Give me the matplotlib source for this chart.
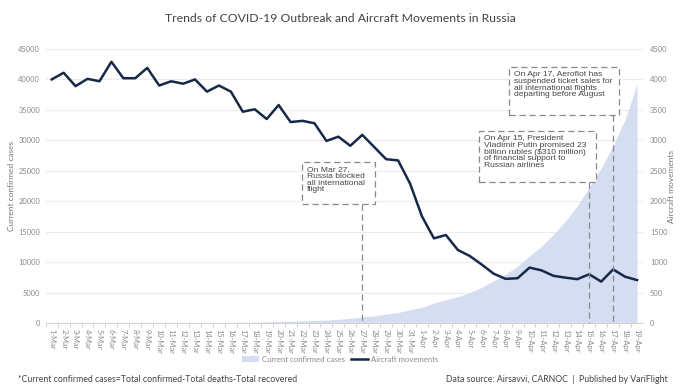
"""
Trends of COVID-19 outbreak and aircraft movements in Russia.
Area = current confirmed cases (left axis), line = aircraft movements (right axis).
"""
import numpy as np
import matplotlib
matplotlib.use("Agg")
import matplotlib.pyplot as plt

plt.rcParams["font.family"] = ["Lato", "DejaVu Sans"]

DAYS = [f"{d}-Mar" for d in range(1, 32)] + [f"{d}-Apr" for d in range(1, 20)]

CASES = [0, 1, 1, 1, 2, 8, 12, 15, 15, 18, 25, 31, 42, 56, 60, 88, 108, 138, 190, 243,
         293, 351, 420, 471, 610, 791, 980, 1195, 1453, 1727, 2186,
         2560, 3283, 3834, 4330, 4989, 5850, 6945, 8000, 9350, 11030, 12580, 14520,
         16710, 19240, 22310, 25400, 29150, 33420, 39200]

MOVEMENTS = [4000, 4110, 3890, 4010, 3970, 4290, 4020, 4020, 4190, 3900, 3970, 3930,
             4000, 3800, 3900, 3800, 3470, 3510, 3350, 3580, 3300, 3320, 3280, 2990,
             3060, 2910, 3090, 2890, 2690, 2670, 2290,
             1750, 1390, 1445, 1200, 1100, 960, 810, 725, 735, 910, 865, 775, 745,
             720, 800, 680, 880, 760, 705]

NOTES = [
    ("27-Mar", "On Mar 27,\nRussia blocked\nall international\nflight", (302, 162, 375, 204)),
    ("15-Apr", "On Apr 15, President\nVladimir Putin promised 23\nbillion rubles ($310 million)\n"
               "of financial support to\nRussian airlines", (479, 131, 596, 182)),
    ("17-Apr", "On Apr 17, Aeroflot has\nsuspended ticket sales for\nall international flights\n"
               "departing before August", (509, 67, 619, 115)),
]

W, H = 680, 386
AREA_C = "#d5def0"
LINE_C = "#172949"
GRID_C = "#ececec"
TXT_C = "#8a8a8a"


def main():
    fig = plt.figure(figsize=(W / 100, H / 100), dpi=100)
    ax = fig.add_axes([45.7 / W, 63 / H, 597.3 / W, 274 / H])
    ax2 = ax.twinx()

    x = np.arange(len(DAYS))
    ax.fill_between(x, CASES, color=AREA_C, lw=0, zorder=2, label="Current confirmed cases")
    ax2.plot(x, MOVEMENTS, color=LINE_C, lw=1.8, zorder=3, label="Aircraft movements")

    ax.set_xlim(-0.5, len(DAYS) - 0.5)
    ax.set_ylim(0, 45000)
    ax2.set_ylim(0, 4500)
    ax.set_yticks(np.arange(0, 45001, 5000))
    ax2.set_yticks(np.arange(0, 4501, 500))
    ax.yaxis.grid(True, color=GRID_C, lw=0.8, zorder=0)
    ax.set_axisbelow(True)

    ax.set_xticks(x)
    ax.set_xticklabels(DAYS, rotation=270, fontsize=5.4, color=TXT_C)
    ax.set_xticks(x - 0.5, minor=True)
    ax.tick_params(axis="x", which="major", length=0, pad=4)
    ax.tick_params(axis="x", which="minor", length=3, color="#cccccc", width=0.6)
    ax.tick_params(axis="y", length=0, labelsize=5.4, labelcolor=TXT_C, pad=4)
    ax2.tick_params(axis="y", length=0, labelsize=5.4, labelcolor=TXT_C, pad=5)

    for a in (ax, ax2):
        for s in a.spines.values():
            s.set_visible(False)
    ax.spines["bottom"].set_visible(True)
    ax.spines["bottom"].set_color("#cccccc")
    ax.spines["bottom"].set_linewidth(0.6)

    ymid = 1 - 186 / H
    fig.text(12 / W, ymid, "Current confirmed cases", rotation=90, ha="center", va="center",
             fontsize=6.0, color="#777777")
    fig.text(671 / W, ymid, "Aircraft movements", rotation=90, ha="center", va="center",
             fontsize=6.0, color="#777777")

    # annotations: dashed boxes + vertical dashed leaders
    trans = ax.transData
    for day, text, (l, t, r, b) in NOTES:
        xi = DAYS.index(day)
        xpix, ypix_axis = trans.transform((xi, 0))
        fig.add_artist(plt.Line2D([xpix / W, xpix / W], [(H - b) / H, ypix_axis / H],
                                  color="#888888", lw=0.9, ls=(0, (5, 3)), zorder=5))
        box = plt.Rectangle((l / W, (H - b) / H), (r - l) / W, (b - t) / H,
                            transform=fig.transFigure, facecolor="white",
                            edgecolor="#888888", lw=0.9, ls=(0, (5, 3)), zorder=6)
        fig.add_artist(box)
        fig.text((l + 5) / W, (H - t - 4) / H, text, ha="left", va="top",
                 fontsize=6.1, color="#444444", linespacing=0.96,
                 family=["Liberation Sans", "DejaVu Sans"], zorder=7)

    fig.text(0.5, 1 - 18 / H, "Trends of COVID-19 Outbreak and Aircraft Movements in Russia",
             ha="center", va="center", fontsize=8.8, color="#444444")

    h1, l1 = ax.get_legend_handles_labels()
    h2, l2 = ax2.get_legend_handles_labels()
    fig.legend(h1 + h2, l1 + l2, loc="center", bbox_to_anchor=(0.5, 1 - 359 / H),
               ncol=2, frameon=False, fontsize=5.6, labelcolor=TXT_C,
               handlelength=2.2, handleheight=0.8, columnspacing=0.8, handletextpad=0.4)

    fig.text(18 / W, 1 - 379 / H,
             "*Current confirmed cases=Total confirmed-Total deaths-Total recovered",
             ha="left", va="center", fontsize=6.3, color="#444444")
    fig.text(668 / W, 1 - 379 / H,
             "Data source: Airsavvi, CARNOC  |  Published by VariFlight",
             ha="right", va="center", fontsize=6.3, color="#444444")

    fig.savefig("out.png", dpi=100)
    plt.close(fig)


if __name__ == "__main__":
    main()
